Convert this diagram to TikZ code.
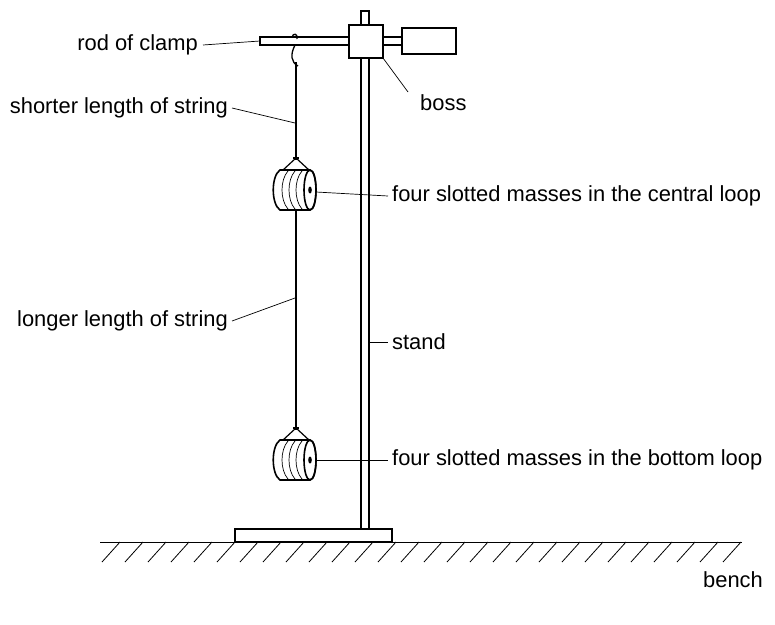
\documentclass[tikz,border=0pt]{standalone}
\usepackage{fontspec}
\setmainfont{Liberation Sans}
\begin{document}
\begin{tikzpicture}[x=1pt,y=-1pt,
  thick/.style={line width=1.6pt},
  lbl/.style={font=\fontsize{21.9}{24}\selectfont,inner sep=0pt},
  lead/.style={line width=0.7pt}]
\useasboundingbox (0,0) rectangle (775,624);
% stand
\draw[thick,fill=white] (361,11) rectangle (369,529);
\draw[thick,fill=white] (235,529) rectangle (392,542);
% bench
\draw[line width=1pt] (100,542) -- (742,542);
\foreach \i in {0,...,27} {\draw[line width=0.8pt] (120+23*\i,542) -- (102+23*\i,562);}
% clamp
\draw[thick,fill=white] (260,37) rectangle (349,45);
\draw[thick,fill=white] (383,37) rectangle (402,45);
\draw[thick,fill=white] (402,28) rectangle (456,54);
\draw[thick,fill=white] (349,25) rectangle (383,58);
% string loop
\draw[line width=1.3pt] (295,45) .. controls (290,55) and (291,62) .. (298,66);
\draw[line width=1.3pt] (292,37) .. controls (293,33) and (298,33) .. (297,39);
\draw[line width=1.3pt] (296,62) -- (296,158);
% masses
\foreach \y in {170,440} {
  \draw[line width=1.2pt] (296,\y-12) -- (283,\y) (296,\y-12) -- (309,\y);
  \draw[line width=1.2pt] (296,\y-14) -- (296,\y-10) (293,\y-12)--(299,\y-12);
  \draw[thick,fill=white] (280,\y) -- (310,\y) .. controls (318,\y) and (318,\y+40) .. (310,\y+40) -- (280,\y+40) .. controls (271,\y+34) and (271,\y+6) .. (280,\y) -- cycle;
  \draw[thick] (310,\y+20) ellipse[x radius=6,y radius=20];
  \foreach \x in {288,295,302} \draw[line width=0.7pt] (\x,\y+1) .. controls (\x-8,\y+10) and (\x-8,\y+30) .. (\x,\y+39);
  \fill (310,\y+20) ellipse[x radius=1.8,y radius=3.5];
}
\draw[line width=1.2pt] (296,210) -- (296,428);
% labels
\node[lbl,anchor=east] (rod) at (198,45) {rod of clamp};
\draw[lead] (rod.east)++(5,0) -- (260,41);
\node[lbl,anchor=east] (sh) at (228,108) {shorter length of string};
\draw[lead] (sh.east)++(4,0) -- (295,123);
\node[lbl,anchor=west] (boss) at (420,103) {boss};
\draw[lead] (383,58) -- (408,92);
\node[lbl,anchor=west] (c) at (392,196) {four slotted masses in the central loop};
\draw[lead] (316,192) -- (388,196);
\node[lbl,anchor=east] (lo) at (228,321) {longer length of string};
\draw[lead] (lo.east)++(4,0) -- (295,298);
\node[lbl,anchor=west] (st) at (392,342) {stand};
\draw[lead] (369,342) -- (388,342);
\node[lbl,anchor=west] (b) at (392,460) {four slotted masses in the bottom loop};
\draw[lead] (316,460) -- (388,460);
\node[lbl,anchor=west] (be) at (703,580) {bench};
\end{tikzpicture}
\end{document}
